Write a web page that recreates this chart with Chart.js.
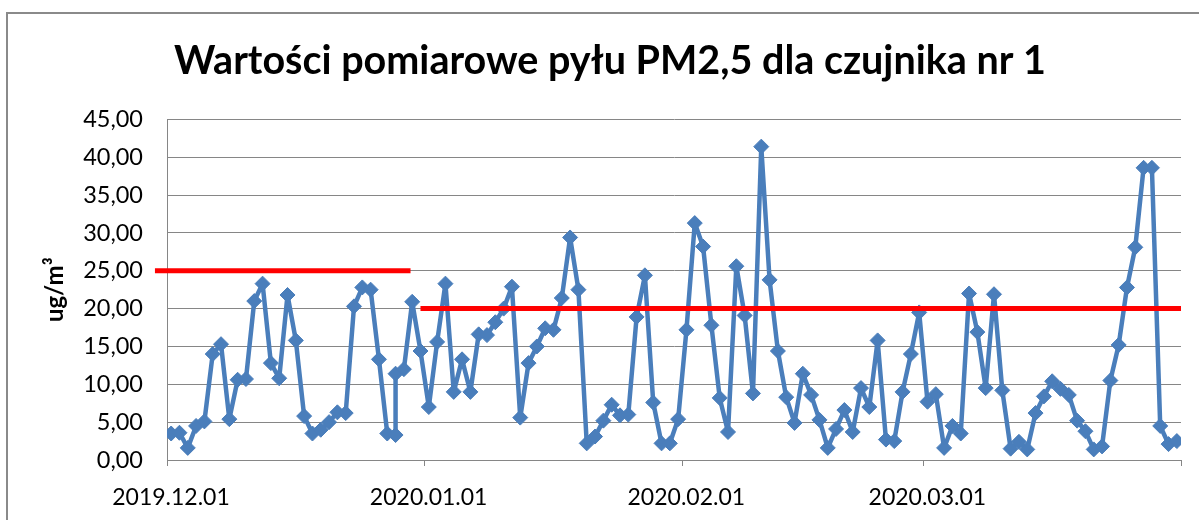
<!DOCTYPE html>
<html>
<head>
<meta charset="utf-8">
<script src="https://cdn.jsdelivr.net/npm/chart.js@4/dist/chart.umd.min.js"></script>
<style>
  html, body { margin: 0; padding: 0; background: #ffffff; }
  #wrap { width: 1199px; height: 520px; }
</style>
</head>
<body>
<div id="wrap"><canvas id="c" width="1199" height="520"></canvas></div>
<script>
// ---- data ----
const chartTitle = 'Wartości pomiarowe pyłu PM2,5 dla czujnika nr 1';
const yAxisTitle = 'ug/m³';
const firstDay = '2019.12.01';
const dayCount = 122;               // 2019.12.01 .. 2020.03.31
const duplicatedDate = '2019.12.28'; // two measurements on this date

// PM2.5 values (ug/m3), one per measurement, in date order
const pm25 = [
  3.5, 3.6, 1.6, 4.5, 5.1, 14.0, 15.3, 5.4, 10.6, 10.7,
  21.0, 23.3, 12.8, 10.8, 21.8, 15.8, 5.8, 3.5, 4.0, 5.0,
  6.3, 6.2, 20.3, 22.8, 22.5, 13.3, 3.5, 3.3, 11.4, 12.0,
  20.9, 14.4, 7.0, 15.6, 23.3, 9.0, 13.3, 9.0, 16.6, 16.5,
  18.2, 20.0, 22.9, 5.6, 12.8, 15.0, 17.4, 17.2, 21.4, 29.4,
  22.5, 2.2, 3.1, 5.2, 7.3, 5.9, 6.0, 18.9, 24.4, 7.6,
  2.2, 2.2, 5.4, 17.2, 31.3, 28.2, 17.8, 8.2, 3.7, 25.6,
  19.1, 8.8, 41.4, 23.8, 14.4, 8.3, 4.9, 11.4, 8.6, 5.3,
  1.6, 4.1, 6.6, 3.7, 9.5, 7.0, 15.8, 2.7, 2.5, 9.0,
  14.0, 19.5, 7.7, 8.7, 1.6, 4.5, 3.5, 22.0, 16.9, 9.5,
  21.9, 9.2, 1.5, 2.4, 1.4, 6.2, 8.4, 10.4, 9.4, 8.6,
  5.2, 3.8, 1.4, 1.8, 10.5, 15.2, 22.8, 28.1, 38.6, 38.6,
  4.5, 2.1, 2.5
];

// x-axis tick labels (month starts)
const monthLabels = ['2019.12.01', '2020.01.01', '2020.02.01', '2020.03.01'];

// limit lines (value, start day, end day; days counted from 2019.12.01)
const limitValues = [25, 20];
const limitFrom = [-1.45, 30.5];
const limitTo = [29.3, 122];

const yTicks = { min: 0, max: 45, step: 5 };

// ---- helpers ----
function parseD(s) { const p = s.split('.').map(Number); return Date.UTC(p[0], p[1] - 1, p[2]); }
function fmtD(t) {
  const d = new Date(t);
  return d.getUTCFullYear() + '.' + String(d.getUTCMonth() + 1).padStart(2, '0') + '.' + String(d.getUTCDate()).padStart(2, '0');
}
const t0 = parseD(firstDay);
const DAY = 86400000;
const dayOf = s => Math.round((parseD(s) - t0) / DAY);

const dates = [];
for (let i = 0; i < dayCount; i++) dates.push(fmtD(t0 + i * DAY));
dates.splice(dates.indexOf(duplicatedDate) + 1, 0, duplicatedDate);

const seriesPoints = pm25.map((v, i) => ({ x: dayOf(dates[i]) + 0.5, y: v }));
const tickDays = monthLabels.map(dayOf).concat([dayCount]);

const blue = '#4A7EBB';
const gridGray = '#868686';

const framePlugin = {
  id: 'frame',
  beforeDraw(chart) {
    const ctx = chart.ctx;
    ctx.save();
    ctx.fillStyle = '#ffffff';
    ctx.fillRect(0, 0, chart.width, chart.height);
    ctx.strokeStyle = '#8a8a8a';
    ctx.lineWidth = 2;
    ctx.strokeRect(7, 13, 1400, 800);
    ctx.restore();
  }
};

const datasets = limitValues.map((v, k) => ({
  label: 'limit' + (k + 1),
  data: [{ x: limitFrom[k], y: v }, { x: limitTo[k], y: v }],
  borderColor: '#FF0000',
  borderWidth: 5,
  pointRadius: 0,
  clip: false,
  order: 0
}));
datasets.push({
  label: 'PM2,5',
  data: seriesPoints,
  borderColor: blue,
  backgroundColor: blue,
  borderWidth: 4.5,
  borderJoinStyle: 'round',
  borderCapStyle: 'round',
  pointStyle: 'rectRot',
  pointRadius: 7.5,
  pointBackgroundColor: blue,
  pointBorderColor: blue,
  pointBorderWidth: 1,
  tension: 0,
  order: 1
});

new Chart(document.getElementById('c'), {
  type: 'line',
  data: { datasets },
  plugins: [framePlugin],
  options: {
    responsive: false,
    animation: false,
    devicePixelRatio: 1,
    layout: { padding: { left: 37, right: 16, top: 0, bottom: 0 } },
    plugins: {
      legend: { display: false },
      tooltip: { enabled: false },
      title: {
        display: true,
        text: chartTitle,
        color: '#000000',
        font: { family: 'Lato', size: 39.5, weight: 'bold' },
        padding: { top: 38, bottom: 34 }
      }
    },
    scales: {
      x: {
        type: 'linear',
        min: 0,
        max: dayCount,
        afterBuildTicks: axis => { axis.ticks = tickDays.map(v => ({ value: v })); },
        afterFit: s => { s.height = 60; },
        ticks: {
          autoSkip: false,
          maxRotation: 0,
          padding: 18,
          labelOffset: 4,
          color: '#000000',
          font: { family: 'Lato', size: 23 },
          callback: (v) => { const i = tickDays.indexOf(v); return i >= 0 && i < monthLabels.length ? monthLabels[i] : ''; }
        },
        grid: { drawOnChartArea: false, drawTicks: true, tickLength: 6, color: gridGray, lineWidth: 1 },
        border: { color: gridGray, width: 1 }
      },
      y: {
        min: yTicks.min,
        max: yTicks.max,
        afterFit: s => { s.width = 130; },
        ticks: {
          stepSize: yTicks.step,
          padding: 24,
          color: '#000000',
          font: { family: 'Lato', size: 23.5 },
          callback: v => Number(v).toFixed(2).replace('.', ',')
        },
        grid: { color: gridGray, lineWidth: 1, drawTicks: false },
        border: { color: gridGray, width: 1 },
        title: {
          display: true,
          text: yAxisTitle,
          color: '#000000',
          font: { family: 'Lato', size: 24, weight: 'bold' },
          padding: { top: 4, bottom: 0 }
        }
      }
    }
  }
});
</script>
</body>
</html>
